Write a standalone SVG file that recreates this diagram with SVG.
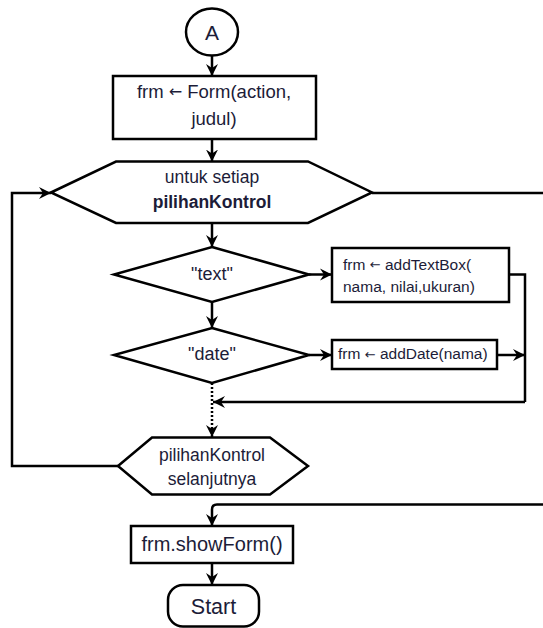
<svg xmlns="http://www.w3.org/2000/svg" width="543" height="628" viewBox="0 0 543 628">
<defs>
<marker id="ah" markerUnits="userSpaceOnUse" markerWidth="13" markerHeight="13" refX="12" refY="6" orient="auto" viewBox="0 0 13 12">
<path d="M0,0 L12,6 L0,12 L4,6 z" fill="#000"/>
</marker>
<style>
.s{fill:#fff;stroke:#000;stroke-width:2.5}
.c{fill:none;stroke:#000;stroke-width:2.5}
.a{marker-end:url(#ah)}
.t{font-family:"Liberation Sans",Arial,sans-serif;fill:#1c1c38;dominant-baseline:central}
.m{text-anchor:middle}
.ar{font-family:"DejaVu Sans",sans-serif}
</style>
</defs>
<rect width="543" height="628" fill="#fff"/>
<g id="connectors">
<path class="c a" d="M212,55.5 L212,76"/>
<path class="c a" d="M212,139 L212,161.5"/>
<path class="c a" d="M212,223 L212,247"/>
<path class="c a" d="M309,274.5 L332,274.5"/>
<path class="c" d="M509,274.5 L525,274.5 L525,402"/>
<path class="c a" d="M525,402 L213,402"/>
<path class="c a" d="M212,302 L212,328"/>
<path class="c a" d="M309,355 L332,355"/>
<path class="c a" d="M497,355 L525,355"/>
<path class="c a" d="M212,383 L212,437" stroke-dasharray="2 2"/>
<path class="c a" d="M118,466 L12,466 L12,193 L51,193"/>
<path class="c" d="M372,193 L543,193"/>
<path class="c a" d="M543,504.5 L217,504.5 Q212,504.5 212,509.5 L212,526"/>
<path class="c a" d="M212,563 L212,585"/>
</g>
<g id="nodeA">
<ellipse class="s" cx="212" cy="32" rx="26" ry="23.5"/>
<text class="t m" x="212" y="32" font-size="21">A</text>
</g>
<g id="nodeForm">
<rect class="s" x="113" y="76" width="203" height="63" stroke-width="3"/>
<text class="t m" x="214" y="91" font-size="18.5">frm <tspan class="ar" font-size="16">←</tspan> Form(action,</text>
<text class="t m" x="214" y="118.5" font-size="18.5">judul)</text>
</g>
<g id="nodeLoop">
<polygon class="s" points="51,192.5 116,161.5 308,161.5 372,192.5 308,223 116,223"/>
<text class="t m" x="212" y="176.5" font-size="17.5">untuk setiap</text>
<text class="t m" x="212" y="202" font-size="17.5" font-weight="bold">pilihanKontrol</text>
</g>
<g id="nodeText">
<polygon class="s" points="212,247 309,274.5 212,302 114,274.5"/>
<text class="t m" x="212" y="273.5" font-size="18">"text"</text>
</g>
<g id="nodeAddTextBox">
<rect class="s" x="332" y="248" width="177" height="54" stroke-width="3"/>
<text class="t" x="343" y="264" font-size="15.5">frm <tspan class="ar" font-size="13">←</tspan> addTextBox(</text>
<text class="t" x="343" y="286.5" font-size="15.5">nama, nilai,ukuran)</text>
</g>
<g id="nodeDate">
<polygon class="s" points="212,328 309,355 212,383 114,355"/>
<text class="t m" x="212" y="353.5" font-size="18">"date"</text>
</g>
<g id="nodeAddDate">
<rect class="s" x="332" y="340" width="165" height="29" stroke-width="3"/>
<text class="t" x="338" y="353.5" font-size="15.5">frm <tspan class="ar" font-size="13">←</tspan> addDate(nama)</text>
</g>
<g id="nodeNext">
<polygon class="s" points="118,466 152,437.5 270,437.5 308,466 270,494.5 152,494.5"/>
<text class="t m" x="212" y="455" font-size="17.5">pilihanKontrol</text>
<text class="t m" x="212" y="479" font-size="17.5">selanjutnya</text>
</g>
<g id="nodeShowForm">
<rect class="s" x="131" y="526" width="162" height="37" stroke-width="3"/>
<text class="t m" x="212" y="543.5" font-size="20">frm.showForm()</text>
</g>
<g id="nodeStart">
<rect class="s" x="168" y="585" width="91" height="41.5" rx="15" ry="15"/>
<text class="t m" x="213.5" y="607" font-size="21.5">Start</text>
</g>
</svg>
